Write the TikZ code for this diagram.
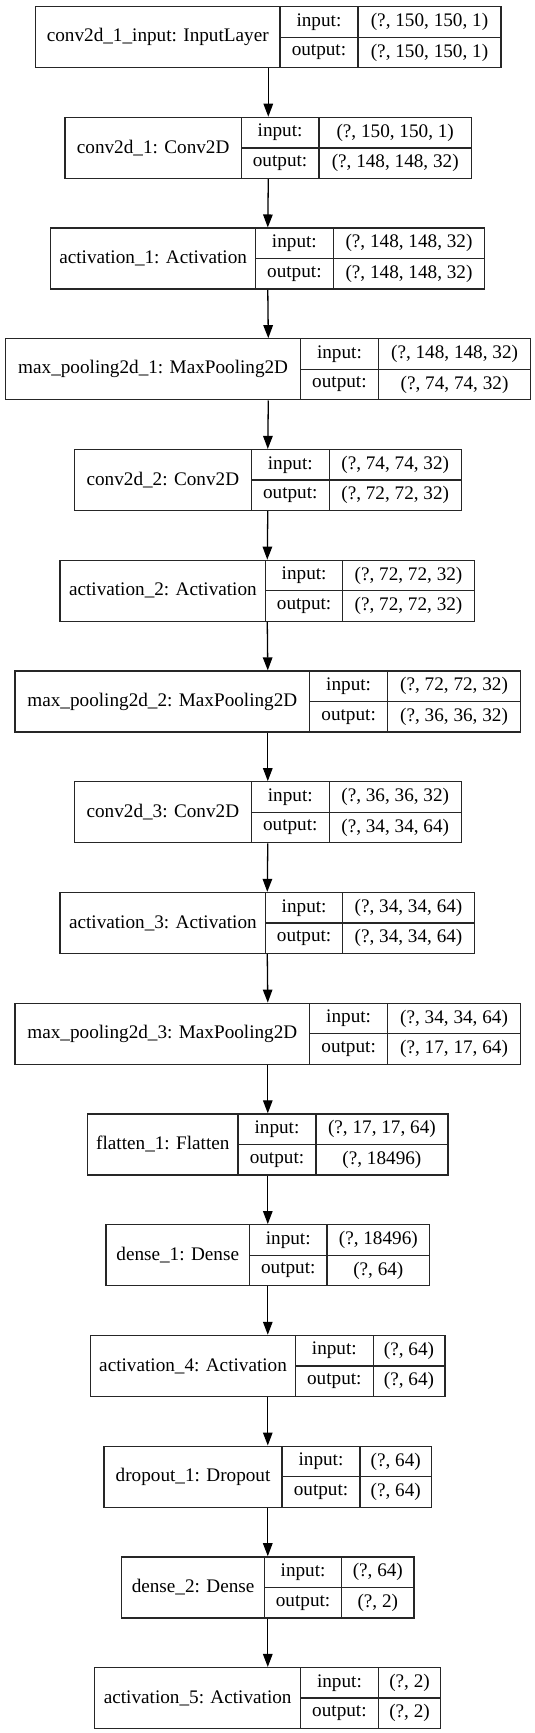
\documentclass[tikz,border=0pt]{standalone}
\usepackage{fontspec}
\setmainfont{Liberation Serif}
\usetikzlibrary{arrows.meta}
\tikzset{
  cellbox/.style={draw=black!85, line width=1.3pt, inner sep=0pt, anchor=north west,
    font=\fontsize{19.2}{21}\selectfont},
  flow/.style={draw=black, line width=1.3pt, -{Triangle[length=13pt,width=9.5pt]}}
}
\def\xs{1.0235}
% #1 name, #2 index, #3 L, #4 D1, #5 D2, #6 R, #7 label, #8 input, #9 output
\newcommand{\layerbox}[9]{%
  \pgfmathsetmacro\ytop{-(6+110.73*(#2))}%
  \pgfmathsetmacro\ymid{\ytop-30.5}%
  \node[cellbox, minimum width={(#6-#3)*\xs}, minimum height=61] (#1) at (#3,\ytop) {};
  \node[cellbox, minimum width={(#4-#3)*\xs}, minimum height=61] (#1-name) at (#3,\ytop) {#7};
  \node[cellbox, minimum width={(#5-#4)*\xs}, minimum height=30.5] (#1-il) at (#4,\ytop) {input:};
  \node[cellbox, minimum width={(#6-#5)*\xs}, minimum height=30.5] (#1-iv) at (#5,\ytop) {#8};
  \node[cellbox, minimum width={(#5-#4)*\xs}, minimum height=30.5] (#1-ol) at (#4,\ymid) {output:};
  \node[cellbox, minimum width={(#6-#5)*\xs}, minimum height=30.5] (#1-ov) at (#5,\ymid) {#9};
}
\begin{document}
\begin{tikzpicture}[x=1.0235pt,y=1pt]
\useasboundingbox (0,0) rectangle (535/1.0235,-1733);
\layerbox{b1}{0}{34}{273}{349}{489}{conv2d\_1\_input: InputLayer}{(?, 150, 150, 1)}{(?, 150, 150, 1)}
\layerbox{b2}{1}{63}{235}{311}{460}{conv2d\_1: Conv2D}{(?, 150, 150, 1)}{(?, 148, 148, 32)}
\layerbox{b3}{2}{49}{249}{325}{473}{activation\_1: Activation}{(?, 148, 148, 32)}{(?, 148, 148, 32)}
\layerbox{b4}{3}{5}{293}{369}{518}{max\_pooling2d\_1: MaxPooling2D}{(?, 148, 148, 32)}{(?, 74, 74, 32)}
\layerbox{b5}{4}{72}{245}{321}{450}{conv2d\_2: Conv2D}{(?, 74, 74, 32)}{(?, 72, 72, 32)}
\layerbox{b6}{5}{58}{259}{334}{463}{activation\_2: Activation}{(?, 72, 72, 32)}{(?, 72, 72, 32)}
\layerbox{b7}{6}{14}{302}{378}{508}{max\_pooling2d\_2: MaxPooling2D}{(?, 72, 72, 32)}{(?, 36, 36, 32)}
\layerbox{b8}{7}{72}{245}{321}{450}{conv2d\_3: Conv2D}{(?, 36, 36, 32)}{(?, 34, 34, 64)}
\layerbox{b9}{8}{58}{259}{334}{463}{activation\_3: Activation}{(?, 34, 34, 64)}{(?, 34, 34, 64)}
\layerbox{b10}{9}{14}{302}{378}{508}{max\_pooling2d\_3: MaxPooling2D}{(?, 34, 34, 64)}{(?, 17, 17, 64)}
\layerbox{b11}{10}{85}{232}{308}{437}{flatten\_1: Flatten}{(?, 17, 17, 64)}{(?, 18496)}
\layerbox{b12}{11}{103}{243}{319}{419}{dense\_1: Dense}{(?, 18496)}{(?, 64)}
\layerbox{b13}{12}{88}{288}{364}{434}{activation\_4: Activation}{(?, 64)}{(?, 64)}
\layerbox{b14}{13}{101}{275}{351}{421}{dropout\_1: Dropout}{(?, 64)}{(?, 64)}
\layerbox{b15}{14}{118}{258}{333}{404}{dense\_2: Dense}{(?, 64)}{(?, 2)}
\layerbox{b16}{15}{92}{293}{369}{430}{activation\_5: Activation}{(?, 2)}{(?, 2)}
\foreach \a/\b in {b1/b2,b2/b3,b3/b4,b4/b5,b5/b6,b6/b7,b7/b8,b8/b9,b9/b10,b10/b11,b11/b12,b12/b13,b13/b14,b14/b15,b15/b16}
  \draw[flow] (\a.south) -- (\b.north);
\end{tikzpicture}
\end{document}
